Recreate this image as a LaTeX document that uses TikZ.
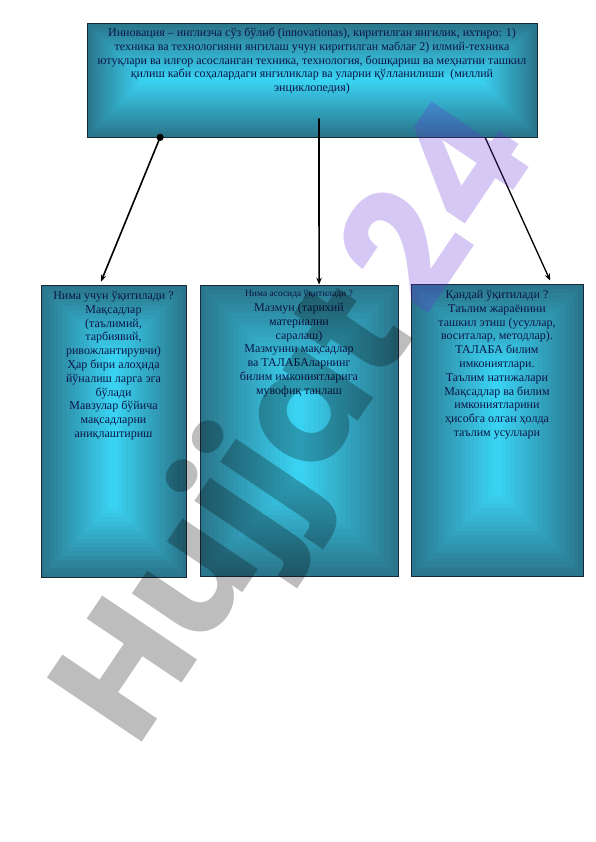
\documentclass[tikz,border=0pt]{standalone}
\usepackage{fontspec}
\setmainfont{Liberation Serif}
\newfontfamily\wmfont{Poppins}
\usetikzlibrary{arrows.meta,calc}
\definecolor{cdark}{RGB}{42,118,140}
\definecolor{cbright}{RGB}{58,210,242}
\definecolor{txt}{RGB}{12,22,70}
\definecolor{edge}{RGB}{25,40,55}
\definecolor{wmpurple}{RGB}{100,45,215}
\newcommand\gradbox[5]{%
  \foreach \i in {0,...,#5}{%
    \pgfmathsetmacro\p{100*\i/#5}%
    \pgfmathsetmacro\d{\i*min(#3-#1,#4-#2)/2/(#5+1)}%
    \fill[cbright!\p!cdark] (#1+\d,#2+\d) rectangle (#3-\d,#4-\d);
  }}
\begin{document}
\begin{tikzpicture}[x=1pt,y=-1pt,
  box/.style={draw=edge,line width=0.7pt,inner sep=0pt},
  lbl/.style={text=txt,align=center,font=\fontsize{12}{13.8}\selectfont,inner sep=0pt,anchor=north},
  arr/.style={line width=1.6pt,-{Stealth[length=7pt,width=5.5pt]}}]
\useasboundingbox (0,0) rectangle (596,842);
\fill[white] (0,0) rectangle (596,842);
\gradbox{87}{23}{537}{137}{30}
\gradbox{41}{285}{186}{577}{16}
\gradbox{200}{285}{398}{576}{20}
\gradbox{411}{284}{583}{576}{18}
\node[box,minimum width=450pt,minimum height=114pt] (top) at (312,80) {};
\node[box,minimum width=145pt,minimum height=292pt] (left) at (113.5,431) {};
\node[box,minimum width=198pt,minimum height=291pt] (mid) at (299,430.5) {};
\node[box,minimum width=172pt,minimum height=292pt] (right) at (497,430) {};
\node[lbl,font=\fontsize{12}{13.7}\selectfont] (toptext) at (312,28) {Инновация – инглизча сўз бўлиб (innovationas), киритилган янгилик, ихтиро: 1)\\
техника ва технологияни янгилаш учун киритилган маблағ 2) илмий-техника\\
ютуқлари ва илғор асосланган техника, технология, бошқариш ва меҳнатни ташкил\\
қилиш каби соҳалардаги янгиликлар ва уларни қўлланилиши \ (миллий\\
энциклопедия)};
\node[lbl] (lefttext) at (113.5,291) {Нима учун ўқитилади ?\\ Мақсадлар\\ (таълимий,\\ тарбиявий,\\ ривожлантирувчи)\\ Ҳар бири алоҳида\\ йўналиш ларга эга\\ бўлади\\ Мавзулар бўйича\\ мақсадларни\\ аниқлаштириш};
\node[lbl,font=\fontsize{9.5}{11}\selectfont] (midtitle) at (299,289.5) {Нима асосида ўқитилади ?};
\node[lbl] (midtext) at (299,303) {Мазмун (тарихий\\ материални\\ саралаш)\\ Мазмунни мақсадлар\\ ва ТАЛАБАларнинг\\ билим имкониятларига\\ мувофиқ танлаш};
\node[lbl] (righttext) at (497,290) {Қандай ўқитилади ?\\ Таълим жараёнини\\ ташкил этиш (усуллар,\\ воситалар, методлар).\\ ТАЛАБА билим\\ имкониятлари.\\ Таълим натижалари\\ Мақсадлар ва билим\\ имкониятларини\\ ҳисобга олган ҳолда\\ таълим усуллари};
\coordinate (a1s) at ($(top.south west)!0.163!(top.south east)$);
\coordinate (a1e) at ($(left.north west)!0.414!(left.north east)+(0,-3)$);
\coordinate (a2s) at ($(top.south)+(7,-19)$);
\coordinate (a2e) at ($(mid.north west)!0.601!(mid.north east)$);
\coordinate (a3s) at ($(top.south west)!0.884!(top.south east)$);
\coordinate (a3e) at ($(right.north west)!0.808!(right.north east)+(0,-3)$);
\fill (a1s) circle (3.6pt);
\draw[arr] (a1s) -- (a1e);
\draw[arr] (a2s) -- (a2e);
\draw[arr,line width=1.3pt] (a3s) -- (a3e);
\node[font=\wmfont\bfseries\fontsize{163}{163}\selectfont,rotate=56,anchor=base west,inner sep=0pt,text=black,text opacity=0.26] (wm) at (136,751) {Hujjat\kern18pt\textcolor{wmpurple}{24}};
\end{tikzpicture}
\end{document}
